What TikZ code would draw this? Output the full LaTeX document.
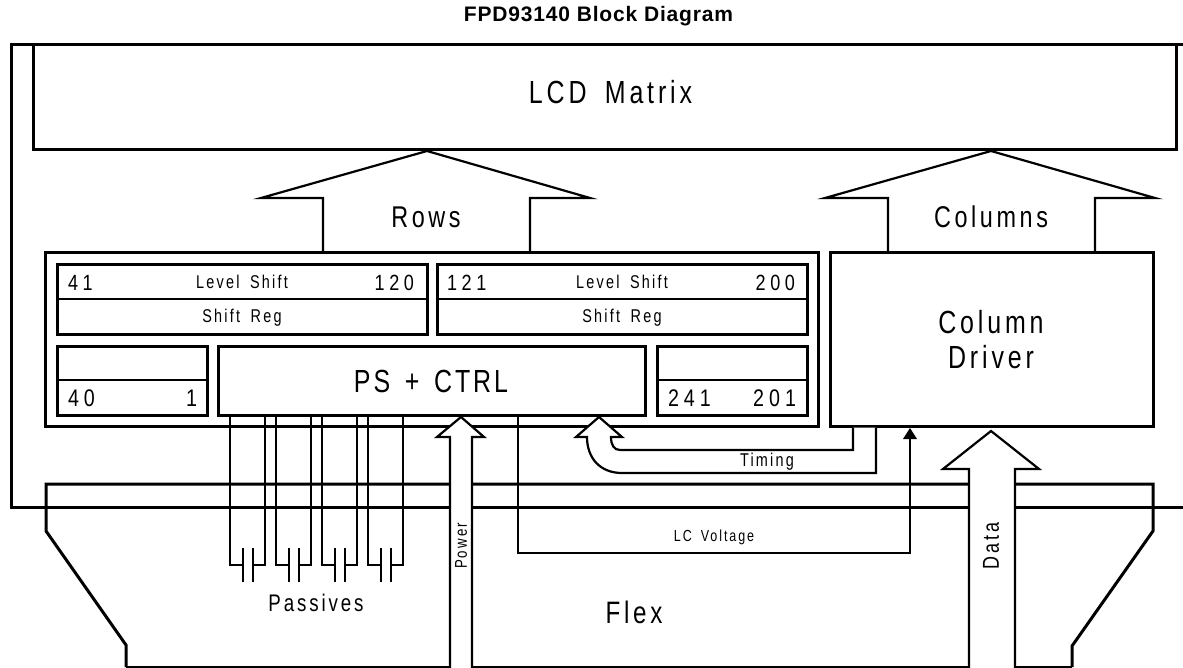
\documentclass[tikz,border=0pt]{standalone}
\usepackage{fontspec}
\setmainfont{Liberation Sans}
\newfontfamily\cad[LetterSpace=12,FakeStretch=0.78,WordSpace=1.7]{Liberation Sans}
\newfontfamily\cadt[LetterSpace=9,FakeStretch=0.78,WordSpace=1.5]{Liberation Sans}
\newfontfamily\cadn[LetterSpace=21,FakeStretch=0.82]{Liberation Sans}
\newcommand{\cadsize}[1]{\fontsize{#1}{#1}\selectfont\cad}
\newcommand{\cadnsize}[1]{\fontsize{#1}{#1}\selectfont\cadn}
\tikzset{
  heavy/.style={line width=3pt},
  thinl/.style={line width=2.2pt},
  passl/.style={line width=2.4pt},
  boxa/.style={draw,heavy,anchor=north west,inner sep=0pt,outer sep=0pt},
  lbl/.style={inner sep=0pt,outer sep=0pt},
  blockarrow/.style={draw,thinl,fill=white,miter limit=10},
  cadbig/.style={lbl,font=\cadsize{32}},
  cadmid/.style={lbl,font=\cadsize{30}},
  cadnum/.style={lbl,font=\cadnsize{22}},
  cadnumb/.style={lbl,font=\cadnsize{24}},
  cadsm/.style={lbl,font=\cadsize{18.5}},
}
\newcommand{\boxat}[5]{\node[boxa,minimum width=#4-#2 pt,minimum height=#5-#3 pt] (#1) at (#2,#3) {};}
\begin{document}
\begin{tikzpicture}[x=1pt,y=-1pt]
\useasboundingbox (0,0) rectangle (1183,668);
\node[lbl,font=\addfontfeatures{LetterSpace=4}\fontsize{21}{21}\selectfont\bfseries] (title) at (598.5,16.5) {FPD93140 Block Diagram};
% frame
\coordinate (fa) at (11.5,507);
\coordinate (fb) at (11.5,45);
\coordinate (fc) at (1183,45);
\coordinate (fd) at (1183,507);
\draw[heavy,line join=miter] (fa) -- (fb) -- (fc);
\draw[heavy] (fa) ++(-2,0) -- (fd);
% flex
\draw[heavy] (126,667) -- (126,645) -- (46,531) -- (46,484) -- (1153,484) -- (1153,531) -- (1072,646) -- (1072,667);
\draw[line width=2pt] (126,667) -- (1072,667);
% top arrows
\draw[blockarrow] (323,253) -- (323,198) -- (261,198) -- (427,151) -- (590,198) -- (530,198) -- (530,253);
\draw[blockarrow] (888,253) -- (888,198) -- (825,198) -- (991,151) -- (1155,198) -- (1095,198) -- (1095,253);
% LCD
\boxat{lcd}{33}{45}{1176}{150}
\node[cadbig] (lcdt) at (610.5,92.5) {LCD Matrix};
% ic
\boxat{ic}{45}{253}{818}{426}
\boxat{shl}{57}{265}{427}{334}
\boxat{shr}{437}{265}{807}{334}
\boxat{bl}{57}{346}{207}{415}
\boxat{ps}{218}{346}{645}{415}
\boxat{br}{657}{346}{807}{415}
\boxat{cd}{830}{253}{1153}{426}
\draw[thinl] (shl.west |- 0,299) coordinate (s1) -- (shl.east |- s1);
\draw[thinl] (shr.west |- 0,299) coordinate (s2) -- (shr.east |- s2);
\draw[thinl] (bl.west |- 0,380) coordinate (s3) -- (bl.east |- s3);
\draw[thinl] (br.west |- 0,380) coordinate (s4) -- (br.east |- s4);
% text in ic
\node[cadnum,anchor=west] (t41) at (68,283) {41};
\node[cadnum,anchor=east] (t120) at (414,283) {120};
\node[cadsm] (ls1) at (242,282) {Level Shift};
\node[cadsm] (sr1) at (242,318) {Shift Reg};
\node[cadnum,anchor=west] (t121) at (447,283) {121};
\node[cadnum,anchor=east] (t200) at (795,283) {200};
\node[cadsm] (ls2) at (622,282) {Level Shift};
\node[cadsm] (sr2) at (622,318) {Shift Reg};
\node[cadnumb,anchor=west] (t40) at (68,398) {40};
\node[cadnumb,anchor=east] (t1) at (197,398) {1};
\node[cadnumb,anchor=west] (t241) at (668,398) {241};
\node[cadnumb,anchor=east] (t201) at (796,398) {201};
\node[lbl,font=\fontsize{32}{32}\selectfont\cadt] (pst) at (431,381) {PS + CTRL};
\node[lbl,font=\fontsize{32}{35}\selectfont\cad,align=center] (cdt) at (991,340) {Column\\Driver};
\node[cadmid] (rows) at (426,217) {Rows};
\node[cadmid] (cols) at (991,217) {Columns};
% passives
\foreach \a/\b in {230/265,276/311,322/357,368/403}{
  \draw[passl] (\a,415) -- (\a,565) -- ({\a+13},565);
  \draw[passl] (\b,415) -- (\b,565) -- ({\a+23},565);
  \draw[passl] ({\a+13},548) -- ({\a+13},582);
  \draw[passl] ({\a+23},548) -- ({\a+23},582);
}
\node[lbl,font=\cadsize{24}] (pass) at (316,603) {Passives};
% power
\draw[blockarrow] (450,668) -- (450,437) -- (437,437) -- (461,417) -- (484,437) -- (472,437) -- (472,668);
\node[lbl,font=\cadsize{17},rotate=90] (pow) at (461,546) {Power};
% data
\draw[blockarrow] (969,668) -- (969,469) -- (943,469) -- (991,431) -- (1039,469) -- (1015,469) -- (1015,668);
\node[lbl,font=\cadsize{23},rotate=90] (data) at (991,546) {Data};
% timing
\draw[blockarrow] (876,427.6) -- (876,473) -- (622,473) .. controls (600,473) and (587,458) .. (587,437) -- (576,437) -- (599,417) -- (622,437) -- (611,437) .. controls (611,445) and (614,450) .. (620,450) -- (853,450) -- (853,427.6);
\node[cadsm] (tim) at (767,462) {Timing};
% LC
\draw[passl] (518,415) -- (518,553) -- (910,553) -- (910,436);
\fill (910,428) -- (917,439) -- (903,439) -- cycle;
\node[lbl,font=\cadsize{16}] (lcv) at (714,537) {LC Voltage};
\node[lbl,font=\cadsize{31}] (flex) at (634,612) {Flex};
\end{tikzpicture}
\end{document}
